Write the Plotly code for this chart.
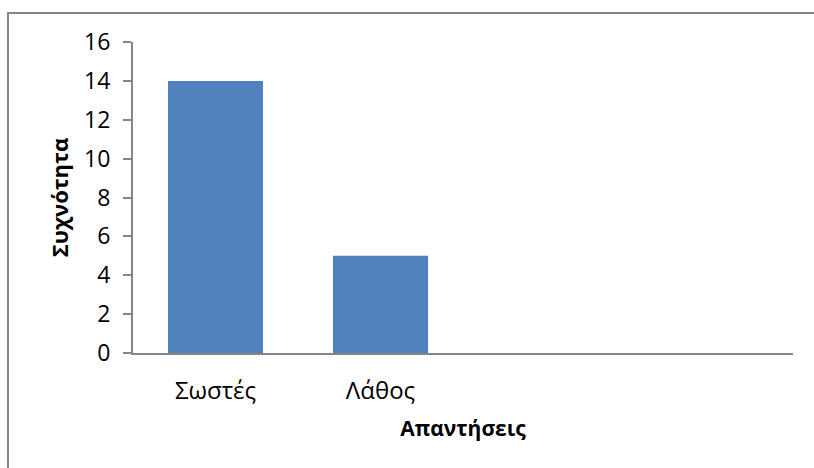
import plotly.graph_objects as go

# Frequencies of answers
categories = ["Σωστές", "Λάθος"]
counts = [14, 5]
y_ticks = [0, 2, 4, 6, 8, 10, 12, 14, 16]

BAR_BLUE = "#4F81BD"
AXIS_GREY = "#868686"
FONT = "Open Sans"

fig = go.Figure(
    go.Bar(
        x=categories,
        y=counts,
        marker=dict(color=BAR_BLUE, line=dict(width=0)),
    )
)

fig.update_layout(
    width=814,
    height=468,
    margin=dict(l=133, r=21, t=42, b=115),
    paper_bgcolor="white",
    plot_bgcolor="white",
    bargap=0.424,
    showlegend=False,
    font=dict(family=FONT, color="black"),
    shapes=[
        # chart frame (right and bottom edges fall outside the canvas)
        dict(
            type="rect",
            xref="paper",
            yref="paper",
            x0=-0.1894,
            x1=1.05,
            y0=-0.40,
            y1=1.0932,
            line=dict(color=AXIS_GREY, width=2),
            layer="below",
        )
    ],
)

fig.update_xaxes(
    type="category",
    categoryorder="array",
    categoryarray=categories,
    range=[-0.5, 3.5],
    showline=True,
    linecolor=AXIS_GREY,
    linewidth=2,
    ticks="",
    showgrid=False,
    zeroline=False,
    tickfont=dict(family=FONT, size=24),
    ticklabelstandoff=15,
    title=dict(
        text="<b>Απαντήσεις</b>",
        font=dict(family=FONT, size=21),
        standoff=17,
    ),
)

fig.update_yaxes(
    range=[0, 16],
    tickvals=y_ticks,
    showline=True,
    linecolor=AXIS_GREY,
    linewidth=2,
    ticks="outside",
    ticklen=8,
    tickwidth=2,
    tickcolor=AXIS_GREY,
    showgrid=False,
    zeroline=False,
    tickfont=dict(family=FONT, size=23),
    ticklabelstandoff=8,
    title=dict(
        text="<b>Συχνότητα</b>",
        font=dict(family=FONT, size=22),
        standoff=9,
    ),
)

fig.write_html("out.html")
